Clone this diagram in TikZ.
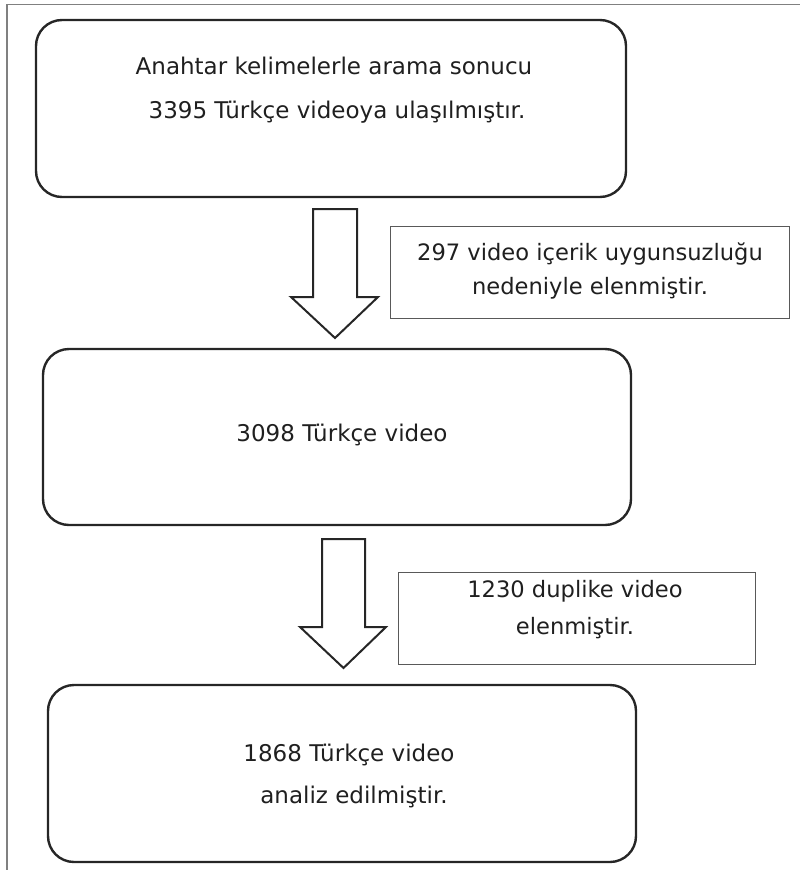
\documentclass[tikz,border=0pt]{standalone}
\usepackage{fontspec}
\setmainfont{DejaVu Sans}
\begin{document}
\begin{tikzpicture}[x=1pt,y=-1pt,
  rbox/.style={draw=black!85,line width=2.4pt,rounded corners=26pt,inner sep=0pt},
  notebox/.style={draw=black!65,line width=1pt,inner sep=0pt},
  btxt/.style={font=\fontsize{23}{26}\selectfont,text=black!88,inner sep=0pt},
  ntxt/.style={font=\fontsize{22.6}{26}\selectfont,text=black!88,inner sep=0pt},
  barrow/.style={draw=black!85,line width=2pt,fill=white,line join=miter}]
\useasboundingbox (0,0) rectangle (800,870);
% frame
\draw[black!50,line width=1.5pt] (7,870) -- (7,4.5) -- (800,4.5);
% boxes
\node[rbox,minimum width=590pt,minimum height=177pt] (b1) at (331,108.5) {};
\node[rbox,minimum width=588pt,minimum height=176pt] (b2) at (337,437) {};
\node[rbox,minimum width=588pt,minimum height=177pt] (b3) at (342,773.5) {};
% notes
\node[notebox,minimum width=399pt,minimum height=92pt] (n1) at (589.5,272) {};
\node[notebox,minimum width=357pt,minimum height=92pt] (n2) at (576.5,618) {};
% block arrows
\coordinate (a1) at (335,209);
\coordinate (a2) at (343.5,539);
\draw[barrow] (a1) ++(-22,0) -- ++(44,0) -- ++(0,88) -- ++(21,0) -- ++(-43,41) -- ++(-44,-41) -- ++(22,0) -- cycle;
\draw[barrow] (a2) ++(-21.5,0) -- ++(43,0) -- ++(0,88) -- ++(21,0) -- ++(-42.5,41) -- ++(-43.5,-41) -- ++(22,0) -- cycle;
% texts
\node[btxt] (t1a) at (334,66) {Anahtar kelimelerle arama sonucu};
\node[btxt] (t1b) at (337,112) {3395 Türkçe videoya ulaşılmıştır.};
\node[btxt] (t2) at (342,435) {3098 Türkçe video};
\node[btxt] (t3a) at (349,755) {1868 Türkçe video};
\node[btxt] (t3b) at (354,797) {analiz edilmiştir.};
\node[ntxt] (tn1a) at (590,254) {297 video içerik uygunsuzluğu};
\node[ntxt] (tn1b) at (590,288) {nedeniyle elenmiştir.};
\node[ntxt] (tn2a) at (575,591) {1230 duplike video};
\node[ntxt] (tn2b) at (575,628) {elenmiştir.};
\end{tikzpicture}
\end{document}
